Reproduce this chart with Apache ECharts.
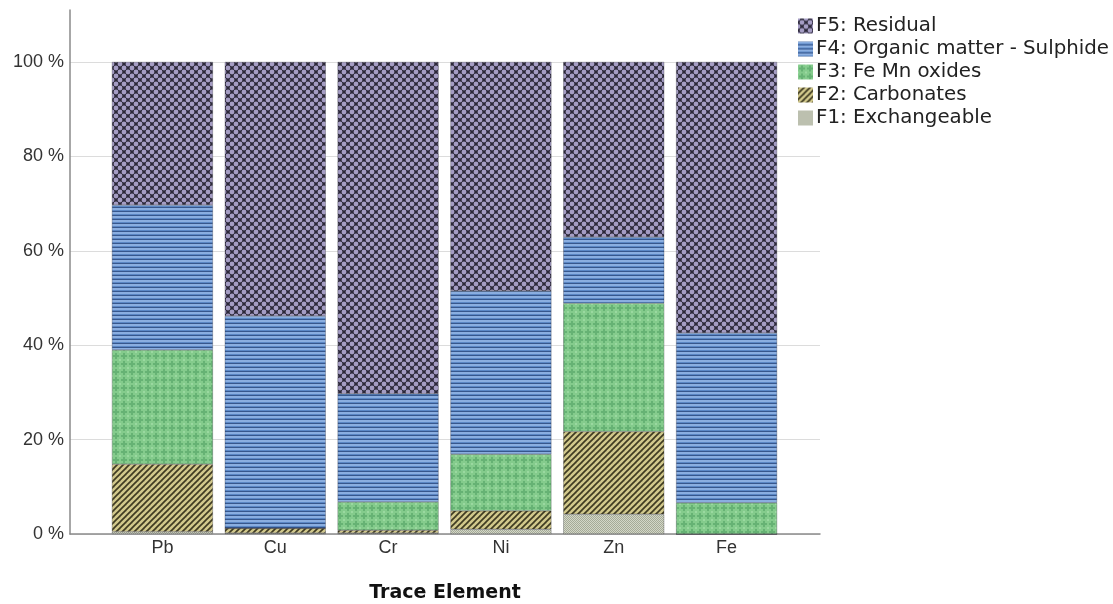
<!DOCTYPE html>
<html><head><meta charset="utf-8">
<script src="https://cdn.jsdelivr.net/npm/echarts@6/dist/echarts.min.js"></script>
<style>html,body{margin:0;padding:0;background:#fff}#c{width:1113px;height:604px}</style>
</head><body><div id="c"></div>
<script>
var categories = ['Pb','Cu','Cr','Ni','Zn','Fe'];
var seriesNames = ['F1: Exchangeable','F2: Carbonates','F3: Fe Mn oxides','F4: Organic matter - Sulphide','F5: Residual'];
var f1 = [0.5, 0.2, 0.2, 1.0, 4.2, 0.0];
var f2 = [14.3, 1.0, 0.6, 3.9, 17.5, 0.0];
var f3 = [24.2, 0.0, 6.0, 12.0, 27.2, 6.6];
var f4 = [30.7, 45.0, 22.9, 34.6, 14.0, 36.0];
var f5 = [30.3, 53.8, 70.3, 48.5, 37.1, 57.4];
var yTicks = [0, 20, 40, 60, 80, 100];

function tile(w, h, draw){
  var c = document.createElement('canvas'); c.width = w; c.height = h;
  draw(c.getContext('2d'), w, h);
  return {image: c, repeat: 'repeat'};
}
var patF5 = tile(8, 8, function(g, w, h){
  g.fillStyle = '#2c2839'; g.fillRect(0,0,w,h);
  g.fillStyle = '#a59dc4';
  [[4,4],[0,0],[8,0],[0,8],[8,8]].forEach(function(p){
    g.beginPath(); g.arc(p[0], p[1], 2.45, 0, Math.PI*2); g.fill();
  });
});
var patF4 = tile(4, 4, function(g, w, h){
  g.fillStyle = '#8aaee0'; g.fillRect(0,0,w,h);
  g.fillStyle = '#5b87c5'; g.fillRect(0,2,w,1);
  g.fillStyle = '#37578c'; g.fillRect(0,3,w,1);
});
var patF3 = tile(8, 8, function(g, w, h){
  g.fillStyle = '#84cb8c'; g.fillRect(0,0,w,h);
  g.fillStyle = '#66b274';
  g.fillRect(3,1,2,6); g.fillRect(1,3,6,2);
  g.fillStyle = '#9ad8a0';
  g.fillRect(0,0,1,1); g.fillRect(7,7,1,1); g.fillRect(7,0,1,1); g.fillRect(0,7,1,1);
});
var patF2 = tile(6, 6, function(g, w, h){
  g.fillStyle = '#d2c98c'; g.fillRect(0,0,w,h);
  g.strokeStyle = '#3f3b22'; g.lineWidth = 1.7;
  for (var k = -2; k <= 2; k++){
    g.beginPath(); g.moveTo(k*6 - 1, h + 1); g.lineTo(k*6 + w + 1, -1); g.stroke();
  }
});
var patF1 = tile(2, 2, function(g, w, h){
  g.fillStyle = '#d3d7c8'; g.fillRect(0,0,w,h);
  g.fillStyle = '#a5aa97'; g.fillRect(0,0,1,1); g.fillRect(1,1,1,1);
});
var patterns = [patF1, patF2, patF3, patF4, patF5];
var values = [f1, f2, f3, f4, f5];

var chart = echarts.init(document.getElementById('c'), null, {renderer: 'canvas'});
var font = 'Liberation Sans, Arial, sans-serif';
var wideFont = 'DejaVu Sans, sans-serif';
var series = values.map(function(arr, s){
  return {
    name: seriesNames[s], type: 'bar', stack: 'total', barWidth: 101,
    xAxisIndex: 0, yAxisIndex: 0,
    itemStyle: {color: patterns[s], borderColor: 'rgba(30,30,40,0.55)', borderWidth: 0.5},
    emphasis: {disabled: true},
    data: arr
  };
});
chart.setOption({
  animation: false,
  backgroundColor: '#fff',
  grid: [
    {left: 106, right: 330, top: 10, bottom: 70, outerBoundsMode: 'none', containLabel: false},
    {left: 70, right: 293, top: 10, bottom: 70, outerBoundsMode: 'none', containLabel: false}
  ],
  legend: {
    orient: 'vertical', left: 793, top: 11, itemWidth: 15, itemHeight: 15, itemGap: 3,
    data: seriesNames.slice().reverse(),
    itemStyle: {borderWidth: 0},
    textStyle: {fontFamily: wideFont, fontSize: 19.8, color: '#222', padding: [0,0,0,-2]},
    icon: 'rect', selectedMode: false
  },
  xAxis: [
    {
      type: 'category', gridIndex: 0, data: categories, boundaryGap: true,
      axisLine: {show: false}, axisTick: {show: false}, splitLine: {show: false},
      axisLabel: {fontFamily: font, fontSize: 18, color: '#333', margin: 5}
    },
    {
      type: 'value', gridIndex: 1, min: 0, max: 1,
      name: 'Trace Element', nameLocation: 'middle', nameGap: 50,
      nameTextStyle: {fontFamily: wideFont, fontSize: 19, fontWeight: 'bold', color: '#111'},
      axisLine: {show: true, onZero: false, lineStyle: {color: '#8a8a8a', width: 1.5}},
      axisTick: {show: false}, splitLine: {show: false}, axisLabel: {show: false}
    }
  ],
  yAxis: [
    {
      type: 'value', gridIndex: 0, min: 0, max: 111,
      axisLine: {show: false}, axisTick: {show: false}, splitLine: {show: false}, axisLabel: {show: false}
    },
    {
      type: 'value', gridIndex: 1, min: 0, max: 111,
      axisLine: {show: true, onZero: false, lineStyle: {color: '#8a8a8a', width: 1.5}},
      axisTick: {show: false, customValues: yTicks},
      splitLine: {show: true, lineStyle: {color: '#dcdcdc', width: 1}},
      axisLabel: {customValues: yTicks, formatter: function(v){ return v + ' %'; },
        fontFamily: font, fontSize: 18, color: '#333', margin: 6}
    }
  ],
  series: series
});
</script></body></html>
